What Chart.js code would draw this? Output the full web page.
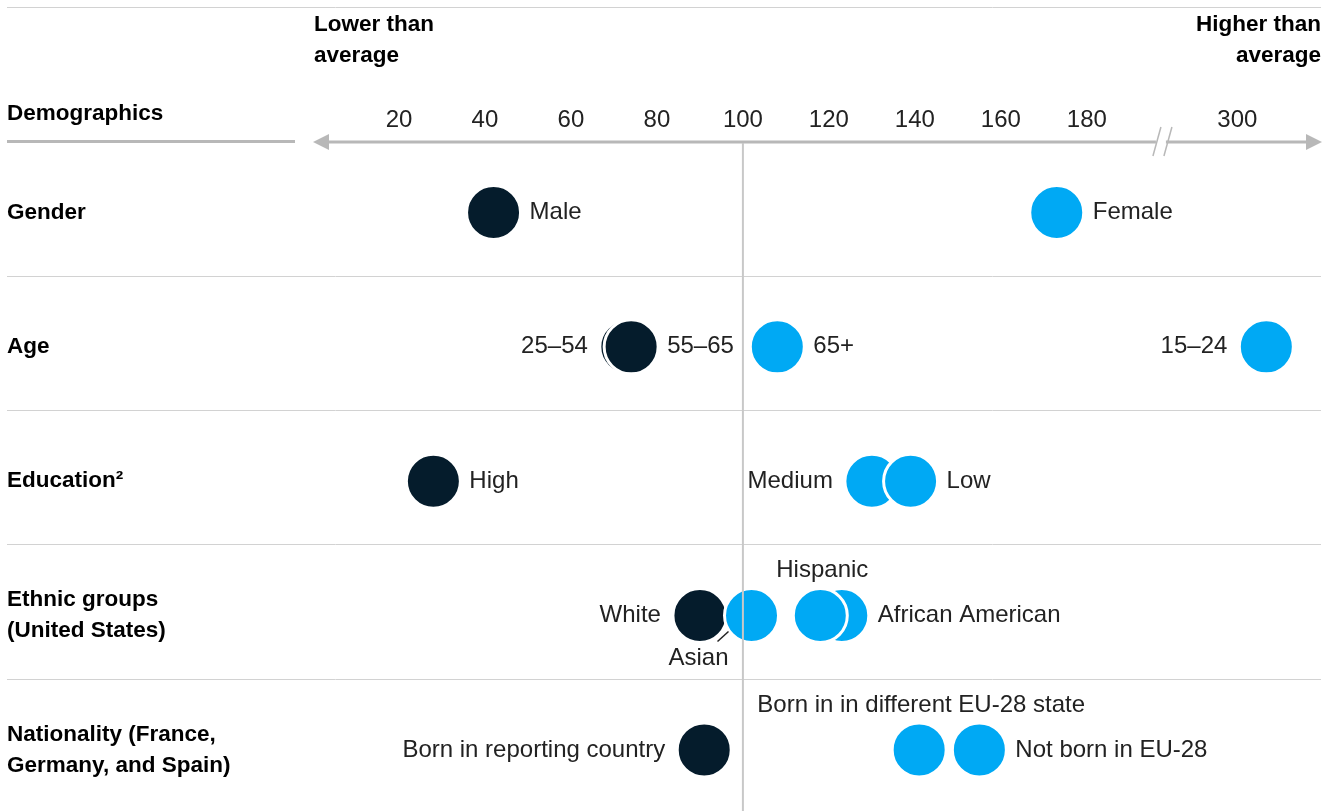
<!DOCTYPE html>
<html>
<head>
<meta charset="utf-8">
<script src="https://cdn.jsdelivr.net/npm/chart.js@4"></script>
<style>
  html, body { margin: 0; padding: 0; background: #fff; }
  #wrap { width: 1338px; height: 811px; }
</style>
</head>
<body>
<div id="wrap"><canvas id="display-demo"></canvas></div>
<script>
// rows (left column)
const categories = [
  ['Gender'],
  ['Age'],
  ['Education²'],
  ['Ethnic groups', '(United States)'],
  ['Nationality (France,', 'Germany, and Spain)']
];
// index = 100 is average
const groupLabels = ['Male', 'Female', '25–54', '55–65', '65+', '15–24', 'High', 'Medium', 'Low',
  'White', 'Asian', 'African American', 'Hispanic',
  'Born in reporting country', 'Born in in different EU-28 state', 'Not born in EU-28'];
const groupRow = [0, 0, 1, 1, 1, 1, 2, 2, 2, 3, 3, 3, 3, 4, 4, 4];
const groupValues = [42, 173, 73, 74, 108, 345, 28, 130, 139, 90, 102, 123, 118, 91, 141, 155];
const tickValues = [20, 40, 60, 80, 100, 120, 140, 160, 180, 300];

// where each label sits next to its dot
const labelSide = ['right', 'right', 'left', 'right', 'right', 'left', 'right', 'left', 'right',
  'left', 'below', 'right', 'above', 'left', 'above', 'right'];

const DARK = '#051c2c';
const BLUE = '#00a9f4';
const FONT = '"Liberation Sans", Arial, sans-serif';
const R = 27;

// broken axis: everything above 200 is squeezed
const brk = v => v <= 200 ? v : 200 + (v - 200) * 0.15;

const points = groupValues.map((v, i) => ({ x: brk(v), y: groupRow[i] }));

function line(ctx, x1, y1, x2, y2) {
  ctx.beginPath();
  ctx.moveTo(x1, y1);
  ctx.lineTo(x2, y2);
  ctx.stroke();
}

const decor = {
  id: 'decor',
  beforeDatasetsDraw(chart) {
    const { ctx, scales: { x, y } } = chart;
    ctx.save();

    // top rule + row separators
    ctx.strokeStyle = '#d2d2d2';
    ctx.lineWidth = 1;
    line(ctx, 7, 7.5, 1321, 7.5);
    for (let i = 0; i < categories.length - 1; i++) {
      const py = Math.round(y.getPixelForValue(i + 0.47)) + 0.5;
      line(ctx, 7, py, 1321, py);
    }

    // header rule under "Demographics"
    ctx.strokeStyle = '#b8b8b8';
    ctx.lineWidth = 3;
    line(ctx, 7, 141.5, 295, 141.5);

    // axis with arrows
    const ay = 142;
    line(ctx, x.left + 12, ay, x.right - 12, ay);
    ctx.fillStyle = '#b8b8b8';
    ctx.beginPath();
    ctx.moveTo(x.left, ay); ctx.lineTo(x.left + 16, ay - 8); ctx.lineTo(x.left + 16, ay + 8); ctx.closePath();
    ctx.fill();
    ctx.beginPath();
    ctx.moveTo(x.right, ay); ctx.lineTo(x.right - 16, ay - 8); ctx.lineTo(x.right - 16, ay + 8); ctx.closePath();
    ctx.fill();

    // axis break
    const bx = x.getPixelForValue(197);
    ctx.strokeStyle = '#fff';
    ctx.lineWidth = 5;
    line(ctx, bx - 4, ay, bx + 6, ay);
    ctx.strokeStyle = '#b8b8b8';
    ctx.lineWidth = 1.5;
    line(ctx, bx - 7, 156, bx + 1, 127);
    line(ctx, bx + 4, 156, bx + 12, 127);

    // tick labels
    ctx.fillStyle = '#222';
    ctx.font = '24px ' + FONT;
    ctx.textAlign = 'center';
    ctx.textBaseline = 'middle';
    tickValues.forEach(t => ctx.fillText(String(t), x.getPixelForValue(brk(t)), 120));

    // header
    ctx.fillStyle = '#000';
    ctx.font = 'bold 22.5px ' + FONT;
    ctx.textAlign = 'left';
    ctx.fillText('Lower than', 314, 25);
    ctx.fillText('average', 314, 56);
    ctx.fillText('Demographics', 7, 114);
    ctx.textAlign = 'right';
    ctx.fillText('Higher than', 1321, 25);
    ctx.fillText('average', 1321, 56);

    // category names
    ctx.textAlign = 'left';
    categories.forEach((c, i) => {
      const cy = y.getPixelForValue(i);
      c.forEach((t, k) => ctx.fillText(t, 7, cy + (k - (c.length - 1) / 2) * 31));
    });
    ctx.restore();
  },
  afterDatasetsDraw(chart) {
    const { ctx, scales: { x, y } } = chart;
    ctx.save();

    // average line
    ctx.strokeStyle = '#c8c8c8';
    ctx.lineWidth = 2;
    const ax = x.getPixelForValue(100);
    line(ctx, ax, 143, ax, chart.height);

    // dot labels
    ctx.fillStyle = '#222';
    ctx.font = '24px ' + FONT;
    ctx.textBaseline = 'middle';
    groupLabels.forEach((lab, i) => {
      const px = x.getPixelForValue(points[i].x);
      const py = y.getPixelForValue(points[i].y);
      const side = labelSide[i];
      if (side === 'right') {
        ctx.textAlign = 'left';
        ctx.fillText(lab, px + R + 9, py);
      } else if (side === 'left') {
        ctx.textAlign = 'right';
        ctx.fillText(lab, px - R - 12, py);
      } else if (side === 'above') {
        ctx.textAlign = 'center';
        ctx.fillText(lab, px + 2, py - 45);
      } else {
        ctx.textAlign = 'center';
        ctx.fillText(lab, px - 53, py + 43);
        ctx.strokeStyle = '#222';
        ctx.lineWidth = 1.5;
        line(ctx, px - 34, py + 26, px - 23, py + 16);
      }
    });
    ctx.restore();
  }
};

new Chart(document.getElementById('display-demo'), {
  type: 'scatter',
  data: {
    datasets: [{
      data: points,
      pointRadius: R,
      pointHoverRadius: R,
      borderWidth: 3,
      borderColor: '#fff',
      backgroundColor: groupValues.map(v => v < 100 ? DARK : BLUE)
    }]
  },
  options: {
    responsive: true,
    maintainAspectRatio: false,
    animation: false,
    events: [],
    layout: { autoPadding: false, padding: { left: 313, right: 16, top: 142, bottom: 0 } },
    plugins: { legend: { display: false }, tooltip: { enabled: false } },
    scales: {
      x: { type: 'linear', display: false, min: 0, max: 234.7 },
      y: { type: 'linear', display: false, reverse: true, min: -0.525, max: 4.455 }
    }
  },
  plugins: [decor]
});
</script>
</body>
</html>
